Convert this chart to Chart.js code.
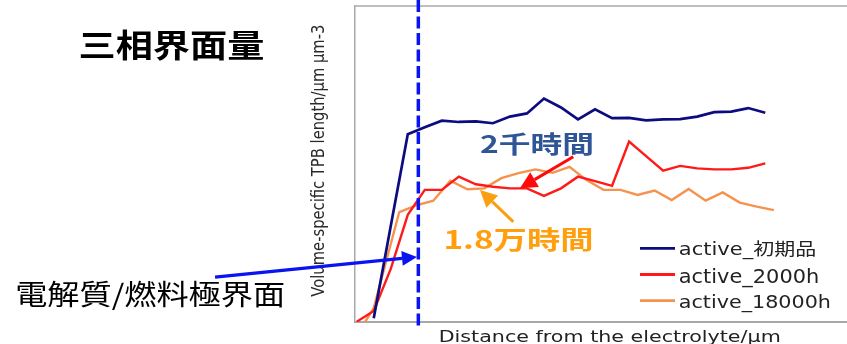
<!DOCTYPE html>
<html>
<head>
<meta charset="utf-8">
<script src="https://cdn.jsdelivr.net/npm/chart.js@4.4.1/dist/chart.umd.min.js"></script>
<style>
  html, body { margin: 0; padding: 0; background: #ffffff; }
  canvas { display: block; }
</style>
</head>
<body>
<canvas id="c" width="847" height="344"></canvas>
<script>
// Distance from the electrolyte (measurement steps)
const distance = [0, 1, 2, 3, 4, 5, 6, 7, 8, 9, 10, 11, 12, 13, 14, 15, 16, 17, 18, 19, 20, 21, 22, 23, 24];
const distance18000h = [0.5, 1.0, 2.5, 3.5, 4.5, 5.5, 6.5, 7.5, 8.5, 9.5, 10.5, 11.5, 12.5, 13.5, 14.5, 15.5, 16.5, 17.5, 18.5, 19.5, 20.5, 21.5, 22.5, 23.5, 24.5];

// Volume-specific TPB length (relative units)
const tpbInitial = [null, 1.2, 30.4, 59.4, 61.6, 63.7, 63.3, 63.5, 62.9, 65.0, 66.0, 70.7, 67.9, 64.1, 67.3, 64.5, 64.6, 63.8, 64.1, 64.2, 65.0, 66.4, 66.6, 67.7, 66.2];
const tpb2000h = [0.1, 3.5, 16.8, 33.9, 41.8, 41.8, 46.0, 43.6, 42.8, 42.3, 42.3, 39.9, 42.3, 46.0, 44.6, 43.1, 57.1, 52.5, 47.9, 49.4, 48.6, 48.3, 48.3, 48.8, 50.2];
const tpb18000h = [0.1, 4.4, 34.8, 36.9, 38.4, 44.7, 42.0, 42.3, 45.5, 47.1, 48.3, 47.2, 49.1, 44.9, 41.8, 41.8, 40.2, 41.6, 38.6, 42.1, 38.4, 41.0, 37.8, 36.5, 35.4];

const seriesLabels = ['active_初期品', 'active_2000h', 'active_18000h'];
const seriesColors = ['#0c0c80', '#ff1a1a', '#f5934e'];

// Electrolyte / anode interface position
const interfaceDistance = 3.62;

const chartTitle = '三相界面量';
const xTitle = 'Distance from the electrolyte/μm';
const yTitle = 'Volume-specific TPB length/μm μm-3';
const interfaceLabel = '電解質/燃料極界面';
const label2000h = '2千時間';
const label18000h = '1.8万時間';

function toPoints(xs, ys) {
  return xs.map((x, i) => ({ x: x, y: ys[i] }));
}

// Draw a string stretched so its ink fills the given box
function drawFitted(ctx, str, font, color, box) {
  ctx.save();
  ctx.font = font;
  ctx.textAlign = 'left';
  ctx.textBaseline = 'alphabetic';
  const m = ctx.measureText(str);
  const inkW = m.actualBoundingBoxLeft + m.actualBoundingBoxRight;
  const sx = (box.right - box.left) / inkW;
  let sy, baseY;
  if (box.baseline !== undefined) {
    sy = (box.baseline - box.top) / m.actualBoundingBoxAscent;
    baseY = box.baseline;
  } else {
    sy = (box.bottom - box.top) / (m.actualBoundingBoxAscent + m.actualBoundingBoxDescent);
    baseY = box.top + m.actualBoundingBoxAscent * sy;
  }
  ctx.translate(box.left + m.actualBoundingBoxLeft * sx, baseY);
  ctx.scale(sx, sy);
  ctx.fillStyle = color;
  ctx.fillText(str, 0, 0);
  ctx.restore();
}

function drawArrow(ctx, x0, y0, x1, y1, color, width, headLen, headHalf) {
  const ang = Math.atan2(y1 - y0, x1 - x0);
  const bx = x1 - Math.cos(ang) * headLen;
  const by = y1 - Math.sin(ang) * headLen;
  ctx.save();
  ctx.strokeStyle = color;
  ctx.fillStyle = color;
  ctx.lineWidth = width;
  ctx.beginPath();
  ctx.moveTo(x0, y0);
  ctx.lineTo(bx, by);
  ctx.stroke();
  ctx.beginPath();
  ctx.moveTo(x1, y1);
  ctx.lineTo(bx + Math.sin(ang) * headHalf, by - Math.cos(ang) * headHalf);
  ctx.lineTo(bx - Math.sin(ang) * headHalf, by + Math.cos(ang) * headHalf);
  ctx.closePath();
  ctx.fill();
  ctx.restore();
}

const decorations = {
  id: 'decorations',
  afterDraw(chart) {
    const ctx = chart.ctx;
    const area = chart.chartArea;
    const xs = chart.scales.x;
    const ys = chart.scales.y;

    // top frame line
    ctx.save();
    ctx.strokeStyle = '#a8a8a8';
    ctx.lineWidth = 1.5;
    ctx.beginPath();
    ctx.moveTo(area.left, area.top);
    ctx.lineTo(chart.width, area.top);
    ctx.stroke();
    ctx.restore();

    // interface marker
    const ix = xs.getPixelForValue(interfaceDistance);
    ctx.save();
    ctx.strokeStyle = '#0a14f0';
    ctx.lineWidth = 3.5;
    ctx.setLineDash([12, 4.5]);
    ctx.beginPath();
    ctx.moveTo(ix, 0);
    ctx.lineTo(ix, area.bottom + 6);
    ctx.stroke();
    ctx.restore();

    // legend
    chart.data.datasets.forEach((ds, i) => {
      const rowY = [248.3, 274.5, 300.7][i];
      ctx.save();
      ctx.strokeStyle = ds.borderColor;
      ctx.lineWidth = 2.8;
      ctx.beginPath();
      ctx.moveTo(640, rowY);
      ctx.lineTo(675, rowY);
      ctx.stroke();
      ctx.restore();
    });
    drawFitted(ctx, chart.data.datasets[0].label, '17px "DejaVu Sans", "Noto Sans CJK JP"', '#222222', { left: 680, right: 815, top: 240.5, baseline: 255.3 });
    drawFitted(ctx, chart.data.datasets[1].label, '17px "DejaVu Sans"', '#222222', { left: 680, right: 818.3, top: 266.7, baseline: 283.3 });
    drawFitted(ctx, chart.data.datasets[2].label, '17px "DejaVu Sans"', '#222222', { left: 680, right: 830, top: 293.3, baseline: 308.3 });

    // axis titles
    drawFitted(ctx, xTitle, '16px "DejaVu Sans"', '#222222', { left: 440, right: 780, top: 330, baseline: 342.3 });
    ctx.save();
    ctx.translate(323.5, 296.7);
    ctx.rotate(-Math.PI / 2);
    drawFitted(ctx, yTitle, '18px "DejaVu Sans"', '#2a2a2a', { left: 0, right: 271.7, top: -13.5, baseline: 0 });
    ctx.restore();

    // headings and callouts
    drawFitted(ctx, chartTitle, 'bold 34px "Noto Sans CJK JP"', '#000000', { left: 80.7, right: 263.3, top: 29.3, bottom: 60.7 });
    drawFitted(ctx, interfaceLabel, '30px "Noto Sans CJK JP"', '#000000', { left: 17.3, right: 284, top: 281, bottom: 311 });
    drawFitted(ctx, label2000h, 'bold 26px "Noto Sans CJK JP"', '#2f5597', { left: 480, right: 592.7, top: 131.7, bottom: 155.7 });
    drawFitted(ctx, label18000h, 'bold 26px "Noto Sans CJK JP"', '#ff9f10', { left: 446, right: 592.3, top: 226.7, bottom: 251.7 });

    const px = (x) => xs.getPixelForValue(x);
    const py = (y) => ys.getPixelForValue(y);
    drawArrow(ctx, px(-8.32), py(14.2), px(3.54), py(20.6), '#0a14f0', 3.2, 15, 7.5);
    drawArrow(ctx, px(12.72), py(52.3), px(9.59), py(42.3), '#ff0a0a', 3, 17, 8.5);
    drawArrow(ctx, px(9.2), py(31.7), px(7.24), py(41.8), '#f8a012', 3, 17, 8.5);
  }
};

new Chart(document.getElementById('c'), {
  type: 'line',
  data: {
    datasets: [
      { label: seriesLabels[0], data: toPoints(distance, tpbInitial), borderColor: seriesColors[0], borderWidth: 2.7 },
      { label: seriesLabels[1], data: toPoints(distance, tpb2000h), borderColor: seriesColors[1], borderWidth: 2.4 },
      { label: seriesLabels[2], data: toPoints(distance18000h, tpb18000h), borderColor: seriesColors[2], borderWidth: 2.4 }
    ]
  },
  options: {
    responsive: false,
    devicePixelRatio: 1,
    animation: false,
    layout: { padding: { left: 355, top: 6, right: 0, bottom: 22 } },
    elements: { point: { radius: 0 }, line: { tension: 0, fill: false } },
    plugins: { legend: { display: false }, tooltip: { enabled: false } },
    scales: {
      x: {
        type: 'linear', min: -0.1, max: 28.8,
        ticks: { display: false },
        grid: { display: false, drawTicks: false },
        border: { display: true, color: '#a8a8a8', width: 2 }
      },
      y: {
        min: 0, max: 100,
        ticks: { display: false },
        grid: { display: false, drawTicks: false },
        border: { display: true, color: '#a8a8a8', width: 1.5 }
      }
    }
  },
  plugins: [decorations]
});
</script>
</body>
</html>
